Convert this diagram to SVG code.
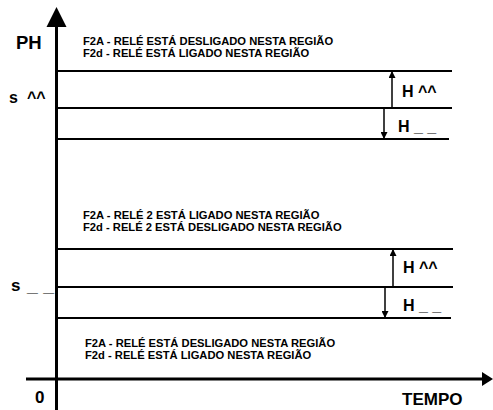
<svg xmlns="http://www.w3.org/2000/svg" width="493" height="410" viewBox="0 0 493 410">
  <style>
    text { font-family: "Liberation Sans", Arial, sans-serif; font-weight: bold; fill: #000; }
    .note { font-size: 11.2px; }
    .big { font-size: 16px; }
    .axis { stroke: #000; stroke-width: 3; fill: none; }
    .level { stroke: #000; stroke-width: 2; fill: none; }
    .hyst { stroke: #000; stroke-width: 1.5; fill: none; marker-end: url(#head); }
  </style>
  <defs>
    <marker id="head" viewBox="0 0 10 10" refX="10" refY="5" markerWidth="9" markerHeight="7" markerUnits="userSpaceOnUse" orient="auto">
      <path d="M0,0 L10,5 L0,10 z" fill="#000"/>
    </marker>
  </defs>
  <rect width="493" height="410" fill="#fff"/>

  <g id="axes">
    <line class="axis" x1="56.5" y1="24" x2="56.5" y2="410"/>
    <polygon points="56.5,7 46.5,27 66.5,27" fill="#000"/>
    <line class="axis" x1="26" y1="379" x2="484" y2="379"/>
    <polygon points="493,379 482,372 482,386" fill="#000"/>
    <text x="16" y="49" style="font-size:18.5px">PH</text>
    <text x="35" y="403" style="font-size:17px">0</text>
    <text x="402" y="405" style="font-size:17px">TEMPO</text>
  </g>

  <g id="upper-band">
    <line class="level" x1="58" y1="71" x2="452" y2="71"/>
    <line class="level" x1="58" y1="108" x2="452" y2="108"/>
    <line class="level" x1="58" y1="139" x2="449" y2="139"/>
    <text class="big" x="9" y="103">s</text>
    <text class="big" x="27" y="103">^^</text>
    <text class="big" x="402" y="97">H ^^</text>
    <text class="big" x="398" y="132">H _ _</text>
  </g>

  <g id="lower-band">
    <line class="level" x1="58" y1="249" x2="453" y2="249"/>
    <line class="level" x1="58" y1="287" x2="453" y2="287"/>
    <line class="level" x1="58" y1="318" x2="451" y2="318"/>
    <text class="big" x="11" y="291" style="font-size:17px">s</text>
    <text class="big" x="27" y="292" textLength="27" lengthAdjust="spacingAndGlyphs">_ _</text>
    <text class="big" x="403" y="273">H ^^</text>
    <text class="big" x="403" y="311">H _ _</text>
  </g>

  <g id="notes">
    <text class="note" x="83" y="45">F2A - RELÉ ESTÁ DESLIGADO NESTA REGIÃO</text>
    <text class="note" x="83" y="57">F2d - RELÉ ESTÁ LIGADO NESTA REGIÃO</text>
    <text class="note" x="83" y="219">F2A - RELÉ 2 ESTÁ LIGADO NESTA REGIÃO</text>
    <text class="note" x="83" y="231">F2d - RELÉ 2 ESTÁ DESLIGADO NESTA REGIÃO</text>
    <text class="note" x="85" y="347">F2A - RELÉ ESTÁ DESLIGADO NESTA REGIÃO</text>
    <text class="note" x="85" y="359">F2d - RELÉ ESTÁ LIGADO NESTA REGIÃO</text>
  </g>

  <g id="connectors">
    <line class="hyst" x1="392" y1="108" x2="392" y2="71"/>
    <line class="hyst" x1="384" y1="108" x2="384" y2="139"/>
    <line class="hyst" x1="393" y1="287" x2="393" y2="249"/>
    <line class="hyst" x1="385" y1="287" x2="385" y2="318"/>
  </g>
</svg>
